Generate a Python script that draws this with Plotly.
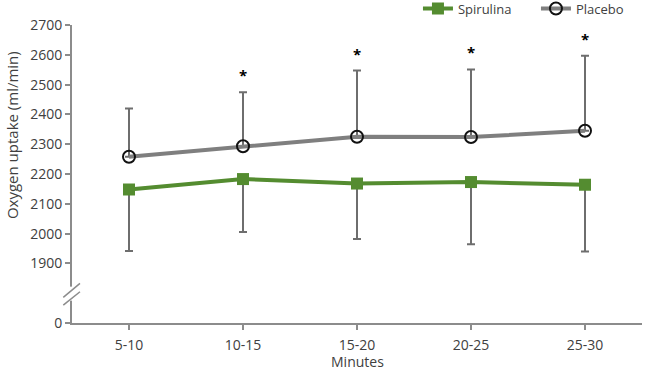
import plotly.graph_objects as go

categories = ["5-10", "10-15", "15-20", "20-25", "25-30"]
spirulina = [2148, 2183, 2168, 2173, 2164]
spirulina_sd = [206, 178, 186, 209, 224]
placebo = [2258, 2293, 2325, 2324, 2345]
placebo_sd = [162, 181, 222, 227, 252]
significant = [False, True, True, True, True]

ytick_vals = [1700, 1900, 2000, 2100, 2200, 2300, 2400, 2500, 2600, 2700]
ytick_text = ["0", "1900", "2000", "2100", "2200", "2300", "2400", "2500", "2600", "2700"]

FONT = "Open Sans"
TXT = "#404040"
AX = "#8c8c8c"
GREEN = "#548c30"
GRAY = "#7f7f7f"
ERR = "#6e6e6e"

fig = go.Figure()
fig.add_trace(go.Scatter(
    x=categories, y=spirulina, name="Spirulina", mode="lines+markers",
    line=dict(color=GREEN, width=4),
    marker=dict(symbol="square", size=12, color=GREEN),
    error_y=dict(type="data", symmetric=False, array=[0] * len(spirulina),
                 arrayminus=spirulina_sd, color=ERR, thickness=2, width=4),
))
fig.add_trace(go.Scatter(
    x=categories, y=placebo, name="Placebo", mode="lines+markers",
    line=dict(color=GRAY, width=4),
    marker=dict(symbol="circle-open", size=12, color="#111111", line=dict(width=2)),
    error_y=dict(type="data", symmetric=False, array=placebo_sd,
                 arrayminus=[0] * len(placebo), color=ERR, thickness=2, width=4),
))

for c, p, s, sig in zip(categories, placebo, placebo_sd, significant):
    if sig:
        fig.add_annotation(x=c, y=p + s, text="<b>*</b>", showarrow=False,
                           yanchor="middle", yshift=17,
                           font=dict(family=FONT, size=15, color="#000000"))

# axis break marks
fig.add_shape(type="rect", xref="paper", yref="y", x0=-0.006, x1=0.006,
              y0=1775, y1=1822, fillcolor="white", line=dict(width=0), layer="above")
fig.add_shape(type="line", xref="paper", yref="y", x0=-0.0153, x1=0.014,
              y0=1786, y1=1833, line=dict(color=AX, width=1.5), layer="above")
fig.add_shape(type="line", xref="paper", yref="y", x0=-0.0153, x1=0.014,
              y0=1760, y1=1805, line=dict(color=AX, width=1.5), layer="above")

fig.add_annotation(text="Oxygen uptake (ml/min)", textangle=-90, xref="paper", yref="paper",
                   x=-0.105, y=0.631, showarrow=False, xanchor="center", yanchor="middle",
                   font=dict(family=FONT, size=15, color=TXT))
fig.add_annotation(text="Minutes", xref="paper", yref="paper",
                   x=0.5, y=-0.128, showarrow=False, xanchor="center", yanchor="middle",
                   font=dict(family=FONT, size=14, color=TXT))

fig.update_layout(
    width=645, height=372,
    margin=dict(l=72, r=3, t=25, b=49, autoexpand=False),
    plot_bgcolor="white", paper_bgcolor="white",
    font=dict(family=FONT, size=14, color=TXT),
    showlegend=True,
    legend=dict(orientation="h", xref="container", yref="container",
                x=0.648, xanchor="left", y=0.977, yanchor="middle",
                font=dict(family=FONT, size=13, color=TXT), itemwidth=30,
                entrywidth=73, bgcolor="rgba(0,0,0,0)"),
    xaxis=dict(type="category", range=[-0.5, 4.5], showline=True, linecolor=AX, linewidth=2,
               ticks="outside", ticklen=5, tickcolor=AX, tickwidth=1.5, showgrid=False,
               zeroline=False, ticklabelstandoff=3, automargin=False),
    yaxis=dict(range=[1700, 2700], tickvals=ytick_vals, ticktext=ytick_text,
               showline=True, linecolor=AX, linewidth=2, ticks="outside", ticklen=5,
               tickcolor=AX, tickwidth=1.5, showgrid=False, zeroline=False,
               automargin=False),
)

fig.write_html("out.html", config={"displayModeBar": False},
               post_script="document.body.style.margin='0px';")
